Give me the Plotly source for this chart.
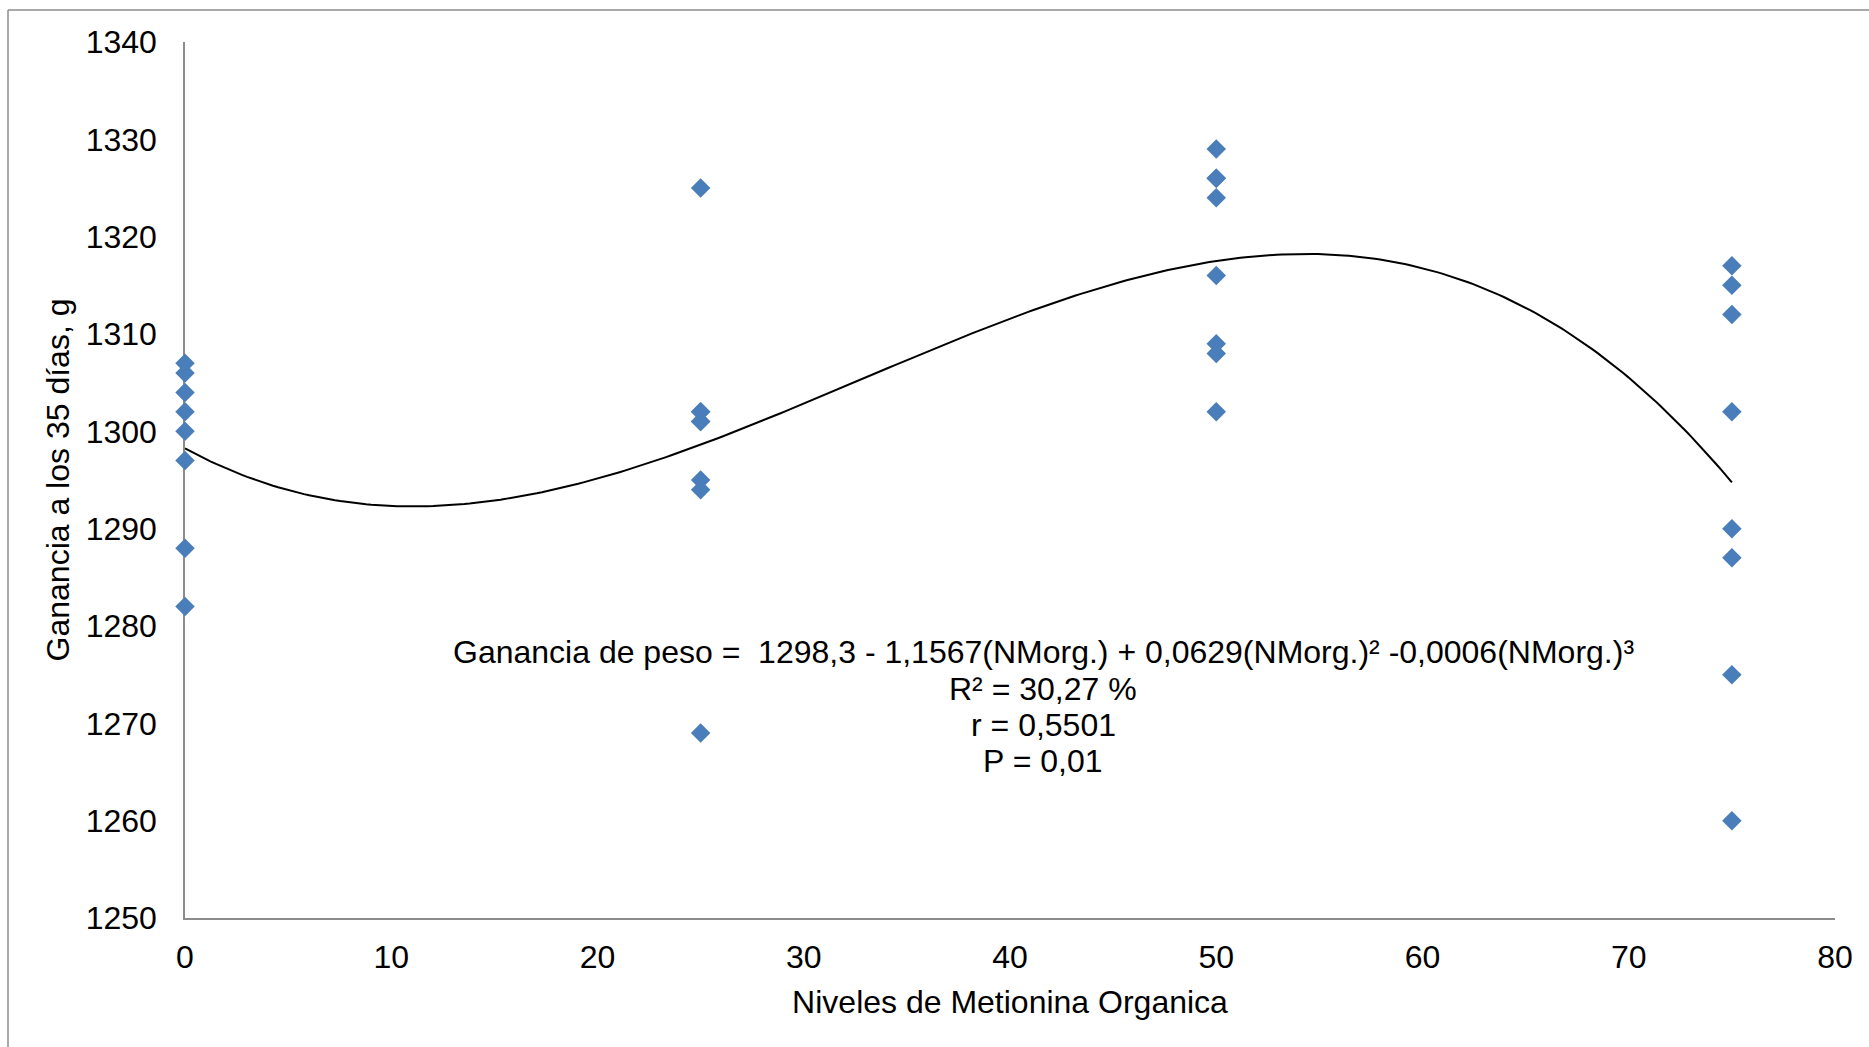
import numpy as np
import plotly.graph_objects as go

# ---- data ----
levels = [0, 25, 50, 75]
gain_0 = [1307, 1306, 1304, 1302, 1300, 1297, 1288, 1282]
gain_25 = [1325, 1302, 1302, 1301, 1301, 1295, 1294, 1269]
gain_50 = [1329, 1326, 1326, 1324, 1316, 1309, 1308, 1302]
gain_75 = [1317, 1315, 1312, 1302, 1290, 1287, 1275, 1260]

x_ticks = [0, 10, 20, 30, 40, 50, 60, 70, 80]
y_ticks = [1250, 1260, 1270, 1280, 1290, 1300, 1310, 1320, 1330, 1340]

eq_lines = [
    "Ganancia de peso = \u00a01298,3 - 1,1567(NMorg.) + 0,0629(NMorg.)² -0,0006(NMorg.)³",
    "R² = 30,27 %",
    "r = 0,5501",
    "P = 0,01",
]

x_title = "Niveles de Metionina Organica"
y_title = "Ganancia a los 35 días, g"

# ---- build points ----
groups = [gain_0, gain_25, gain_50, gain_75]
xs, ys = [], []
for lv, g in zip(levels, groups):
    xs += [lv] * len(g)
    ys += g
xs = np.array(xs, dtype=float)
ys = np.array(ys, dtype=float)

# cubic trend line fitted to the data
coef = np.polyfit(xs, ys, 3)
xf = np.linspace(min(levels), max(levels), 300)
yf = np.polyval(coef, xf)

FONT = "Liberation Sans, Arial, sans-serif"
W, H = 1869, 1047
ML, MR, MT, MB = 185, 34, 42, 129
PW, PH = W - ML - MR, H - MT - MB

fig = go.Figure()
fig.add_trace(go.Scatter(
    x=xs, y=ys, mode="markers",
    marker=dict(symbol="diamond", size=15, color="#4A7EBB", line=dict(width=0)),
    cliponaxis=False, showlegend=False, hoverinfo="skip",
))
fig.add_trace(go.Scatter(
    x=xf, y=yf, mode="lines",
    line=dict(color="black", width=2),
    cliponaxis=False, showlegend=False, hoverinfo="skip",
))

def px2paper_x(px):
    return (px - ML) / PW

def py2paper_y(py):
    return (H - MB - py) / PH

eq_y_px = [652, 688.5, 725, 761]
annotations = []
for txt, ypx in zip(eq_lines, eq_y_px):
    annotations.append(dict(
        text=txt, xref="paper", yref="paper",
        x=px2paper_x(1043), y=py2paper_y(ypx),
        xanchor="center", yanchor="middle", showarrow=False,
        font=dict(family=FONT, size=32, color="black"),
    ))

border_col = "#8C8C8C"
shapes = [
    dict(type="line", xref="paper", yref="paper",
         x0=px2paper_x(8), x1=px2paper_x(8),
         y0=py2paper_y(1060), y1=py2paper_y(10),
         line=dict(color=border_col, width=1.5)),
    dict(type="line", xref="paper", yref="paper",
         x0=px2paper_x(8), x1=px2paper_x(1880),
         y0=py2paper_y(10), y1=py2paper_y(10),
         line=dict(color=border_col, width=1.5)),
]

axis_common = dict(
    showgrid=False, zeroline=False, showline=True,
    linecolor="#8C8C8C", linewidth=1.5, ticks="",
    tickfont=dict(family=FONT, size=32, color="black"),
    layer="below traces",
)

fig.update_layout(
    width=W, height=H,
    margin=dict(l=ML, r=MR, t=MT, b=MB, pad=0),
    paper_bgcolor="white", plot_bgcolor="white",
    xaxis=dict(range=[0, 80], tickvals=x_ticks, ticktext=[str(v) for v in x_ticks],
               ticklabelstandoff=10,
               title=dict(text=x_title, font=dict(family=FONT, size=32, color="black"), standoff=16),
               **axis_common),
    yaxis=dict(range=[1250, 1340], tickvals=y_ticks, ticktext=[str(v) for v in y_ticks],
               ticklabelstandoff=20,
               title=dict(text=y_title, font=dict(family=FONT, size=32, color="black"), standoff=6),
               **axis_common),
    annotations=annotations,
    shapes=shapes,
    showlegend=False,
)

fig.write_html("out.html", config={"displayModeBar": False})
